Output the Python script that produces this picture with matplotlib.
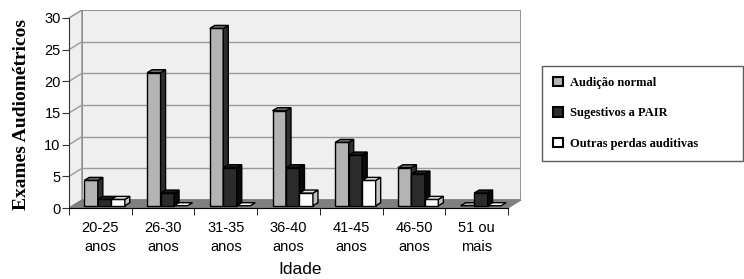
import matplotlib.pyplot as plt
from matplotlib.patches import Patch

categorias = ["20-25\nanos", "26-30\nanos", "31-35\nanos", "36-40\nanos",
              "41-45\nanos", "46-50\nanos", "51 ou\nmais"]
audicao_normal = [4, 21, 28, 15, 10, 6, 0]
sugestivos_pair = [1, 2, 6, 6, 8, 5, 2]
outras_perdas = [1, 0, 0, 2, 4, 1, 0]

series = [
    ("Audição normal", audicao_normal, "#b4b4b4", "#6a6a6a", "#2e2e2e"),
    ("Sugestivos a PAIR", sugestivos_pair, "#2c2c2c", "#1c1c1c", "#0a0a0a"),
    ("Outras perdas auditivas", outras_perdas, "#ffffff", "#e6e6e6", "#c4c4c4"),
]

W, H = 744, 279
fig = plt.figure(figsize=(W / 100, H / 100), dpi=100)

# pixel geometry of the front plane
px_left, px_right0, px_bottom, px_top = 69, 508, 208, 10
ncat = len(categorias)
cat_px = (px_right0 - px_left) / ncat
unit_px = 190 / 30
DX = 13 / cat_px
DY = 8 / unit_px
ax = fig.add_axes([px_left / W, (H - px_bottom) / H,
                   (px_right0 + 13 - px_left) / W, (px_bottom - px_top) / H])
ax.set_xlim(0, ncat + DX)
ax.set_ylim(0, 30 + DY)

# walls and floor
ax.fill([DX, ncat + DX, ncat + DX, DX], [DY, DY, 30 + DY, 30 + DY],
        facecolor="#efefef", edgecolor="#8c8c8c", lw=1.3, zorder=1)
ax.fill([0, DX, DX, 0], [0, DY, 30 + DY, 30], facecolor="#efefef",
        edgecolor="#8c8c8c", lw=1.0, zorder=1)
ax.fill([0, ncat, ncat + DX, DX], [0, 0, DY, DY], facecolor="#808080",
        edgecolor="#808080", lw=0.8, zorder=2)
for v in range(5, 30, 5):
    ax.plot([DX, ncat + DX], [v + DY, v + DY], color="#9a9a9a", lw=1.0, zorder=1.5)
    ax.plot([0, DX], [v, v + DY], color="#9a9a9a", lw=1.0, zorder=1.5)

# 3D bars
bw = 0.215
off = 0.245
b0 = 0.36
bdx = 5 / cat_px
bdy = 3 / unit_px
z = 3
for i in range(ncat):
    for j, (nome, vals, cface, ctop, cside) in enumerate(series):
        x0 = i + off + j * bw
        v = vals[i]
        if v > 0:
            ax.bar(x0, v, width=bw, bottom=b0, align="edge", color=cface,
                   edgecolor="black", lw=1.0, zorder=z)
            ax.fill([x0 + bw, x0 + bw + bdx, x0 + bw + bdx, x0 + bw],
                    [b0, b0 + bdy, b0 + v + bdy, b0 + v],
                    facecolor=cside, edgecolor="black", lw=1.0, zorder=z)
        ax.fill([x0, x0 + bw, x0 + bw + bdx, x0 + bdx],
                [b0 + v, b0 + v, b0 + v + bdy, b0 + v + bdy],
                facecolor=ctop if v > 0 else cface, edgecolor="black", lw=1.0, zorder=z)
        z += 1

for s in ["top", "right"]:
    ax.spines[s].set_visible(False)
ax.spines["left"].set_bounds(0, 30)
ax.spines["bottom"].set_bounds(0, ncat)
ax.spines["left"].set_color("#333333")
ax.spines["left"].set_zorder(50)
ax.spines["bottom"].set_zorder(50)
ax.patch.set_visible(False)

ax.set_yticks(range(0, 31, 5))
ax.tick_params(axis="y", direction="out", length=5, pad=1, labelsize=10.5,
               color="#333333")
ax.set_xticks([i + 0.5 for i in range(ncat)])
ax.set_xticklabels(categorias, linespacing=1.5)
ax.set_xticks(range(ncat + 1), minor=True)
ax.tick_params(axis="x", which="major", length=0, pad=9, labelsize=10.5)
ax.tick_params(axis="x", which="minor", direction="out", length=5)
for lab in ax.get_xticklabels() + ax.get_yticklabels():
    lab.set_fontfamily("Liberation Sans")

fig.text(300 / W, 1 - 269 / H, "Idade", ha="center", va="center",
         fontsize=12.5, family="Liberation Sans")
fig.text(22 / W, 1 - 115 / H, "Exames Audiométricos", rotation=90,
         ha="center", va="center", fontsize=14, fontweight="bold",
         family="Liberation Serif")

handles = [Patch(facecolor=c, edgecolor="black", lw=1.5, label=n)
           for n, _, c, _, _ in series]
leg = fig.legend(handles=handles, loc="upper left",
                 bbox_to_anchor=(542 / W, 1 - 66 / H, 201 / W, 0.0),
                 mode="expand", frameon=True, fancybox=False,
                 prop={"family": "Liberation Serif", "weight": "bold", "size": 9},
                 handlelength=0.75, handleheight=0.75, handletextpad=0.6,
                 labelspacing=1.45, borderpad=0.9, borderaxespad=0)
leg.get_frame().set_edgecolor("#333333")
leg.get_frame().set_linewidth(1.0)

fig.savefig("out.png", dpi=100)
